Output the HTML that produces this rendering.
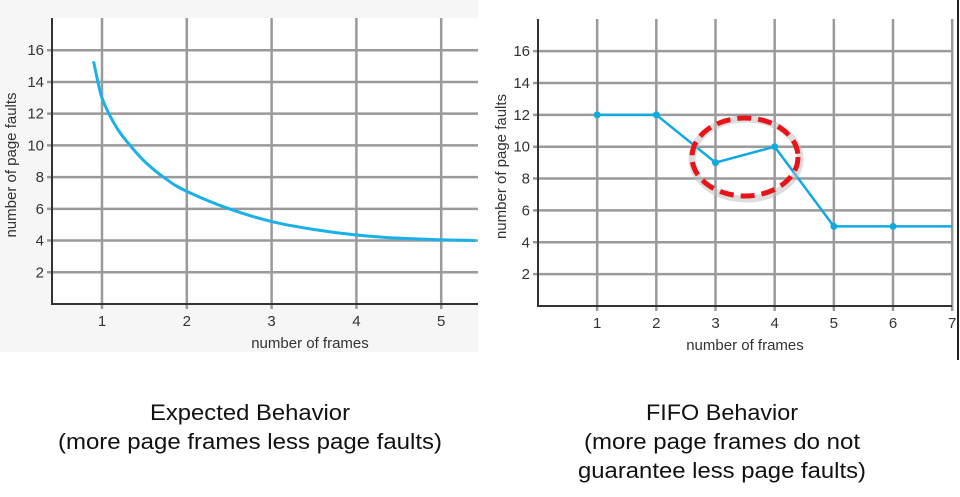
<!DOCTYPE html>
<html><head><meta charset="utf-8"><style>
html,body{margin:0;padding:0;background:#fff;width:960px;height:497px;overflow:hidden}
svg{display:block;font-family:"Liberation Sans",sans-serif}
</style></head><body>
<svg id="s" width="960" height="497" viewBox="0 0 960 497">
<rect x="0" y="0" width="478" height="352" fill="#f6f6f6"/>
<rect x="52" y="18" width="426" height="286" fill="#fff"/>
<rect x="538" y="19" width="414" height="287" fill="#fff"/>
<g id="L"></g>
<g id="R"></g>
<line x1="958" y1="0" x2="958" y2="360" stroke="#222" stroke-width="2"/>
<g font-size="22" fill="#111" text-anchor="middle">
<text x="250" y="420" textLength="200" lengthAdjust="spacingAndGlyphs">Expected Behavior</text>
<text x="250" y="449" textLength="384" lengthAdjust="spacingAndGlyphs">(more page frames less page faults)</text>
<text x="722" y="420" textLength="152" lengthAdjust="spacingAndGlyphs">FIFO Behavior</text>
<text x="722" y="449" textLength="276" lengthAdjust="spacingAndGlyphs">(more page frames do not</text>
<text x="722" y="478" textLength="288" lengthAdjust="spacingAndGlyphs">guarantee less page faults)</text>
</g>
</svg>
<script>
const yTicks=[2,4,6,8,10,12,14,16];
const leftXTicks=[1,2,3,4,5];
const rightXTicks=[1,2,3,4,5,6,7];
const expectedFrames=[0.9,0.95,1,1.1,1.2,1.3,1.5,1.75,2,2.5,3,3.5,4,4.5,5,5.4];
const expectedFaults=[15.3,14.05,13,11.8,10.9,10.2,9,7.9,7.1,6,5.2,4.7,4.35,4.15,4.05,4];
const fifoFrames=[1,2,3,4,5,6,7];
const fifoFaults=[12,12,9,10,5,5,5];
const NS='http://www.w3.org/2000/svg';
function mk(parent,tag,attrs){const e=document.createElementNS(NS,tag);for(const k in attrs)e.setAttribute(k,attrs[k]);parent.appendChild(e);return e;}
function chart(g,o){
  const sx=v=>o.x0+v*o.kx, sy=v=>o.y0-v*o.ky;
  yTicks.forEach(t=>{const l=mk(g,'line',{x1:o.left-5,x2:o.right,y1:sy(t),y2:sy(t),stroke:'#9a9a9c','stroke-width':2.5});
    
    
    const tx=mk(g,'text',{x:o.left-8,y:sy(t)+5,'text-anchor':'end','font-size':15,fill:'#333'});tx.textContent=t;
    
    });
  o.xt.forEach(t=>{const l=mk(g,'line',{x1:sx(t),x2:sx(t),y1:o.top,y2:o.y0+5,stroke:'#9a9a9c','stroke-width':2.5});
    
    
    const tx=mk(g,'text',{x:sx(t),y:o.y0+22,'text-anchor':'middle','font-size':15,fill:'#333'});tx.textContent=t;
    
    });
  const ax=mk(g,'path',{d:`M${o.left},${o.top}V${o.y0}H${o.right}`,fill:'none',stroke:'#333','stroke-width':2});
  
  
  const xl=mk(g,'text',{x:o.xlx,y:o.y0+44,'text-anchor':'middle','font-size':15,fill:'#333'});xl.textContent='number of frames';
  
  
  const yl=mk(g,'text',{transform:`translate(${o.ylx},${(o.top+o.y0)/2+4}) rotate(-90)`,'text-anchor':'middle','font-size':15,fill:'#333'});yl.textContent='number of page faults';
  
  
  return {sx,sy};
}
const L=document.getElementById('L'),R=document.getElementById('R');
const a=chart(L,{x0:17.2,kx:84.8,y0:304,ky:15.86,left:52,right:478,top:18,xt:leftXTicks,xlx:310,ylx:16});
let pts=expectedFrames.map((f,i)=>[a.sx(f),a.sy(expectedFaults[i])]);
let d='M'+pts[0].join(',');
for(let i=0;i<pts.length-1;i++){const p0=pts[Math.max(0,i-1)],p1=pts[i],p2=pts[i+1],p3=pts[Math.min(pts.length-1,i+2)];
  d+=`C${p1[0]+(p2[0]-p0[0])/6},${p1[1]+(p2[1]-p0[1])/6} ${p2[0]-(p3[0]-p1[0])/6},${p2[1]-(p3[1]-p1[1])/6} ${p2[0]},${p2[1]}`;}
const c=mk(L,'path',{d,fill:'none',stroke:'#1ab0e8','stroke-width':3});


const b=chart(R,{x0:538,kx:59.17,y0:306,ky:15.93,left:538,right:952,top:19,xt:rightXTicks,xlx:745,ylx:506});
const fl=mk(R,'polyline',{points:fifoFrames.map((f,i)=>b.sx(f)+','+b.sy(fifoFaults[i])).join(' '),fill:'none',stroke:'#12a9e0','stroke-width':2.5});


fifoFrames.slice(0,6).forEach((f,i)=>{const p=mk(R,'circle',{cx:b.sx(f),cy:b.sy(fifoFaults[i]),r:3.5,fill:'#12a9e0'});
  
  });
const sh=mk(R,'ellipse',{cx:746,cy:159,rx:54,ry:40,fill:'none',stroke:'#bbb','stroke-width':7,opacity:0.5});


const el=mk(R,'ellipse',{cx:745,cy:157,rx:53,ry:39,fill:'none',stroke:'#e8141a','stroke-width':5,'stroke-dasharray':'14 7'});


</script>
</body></html>
